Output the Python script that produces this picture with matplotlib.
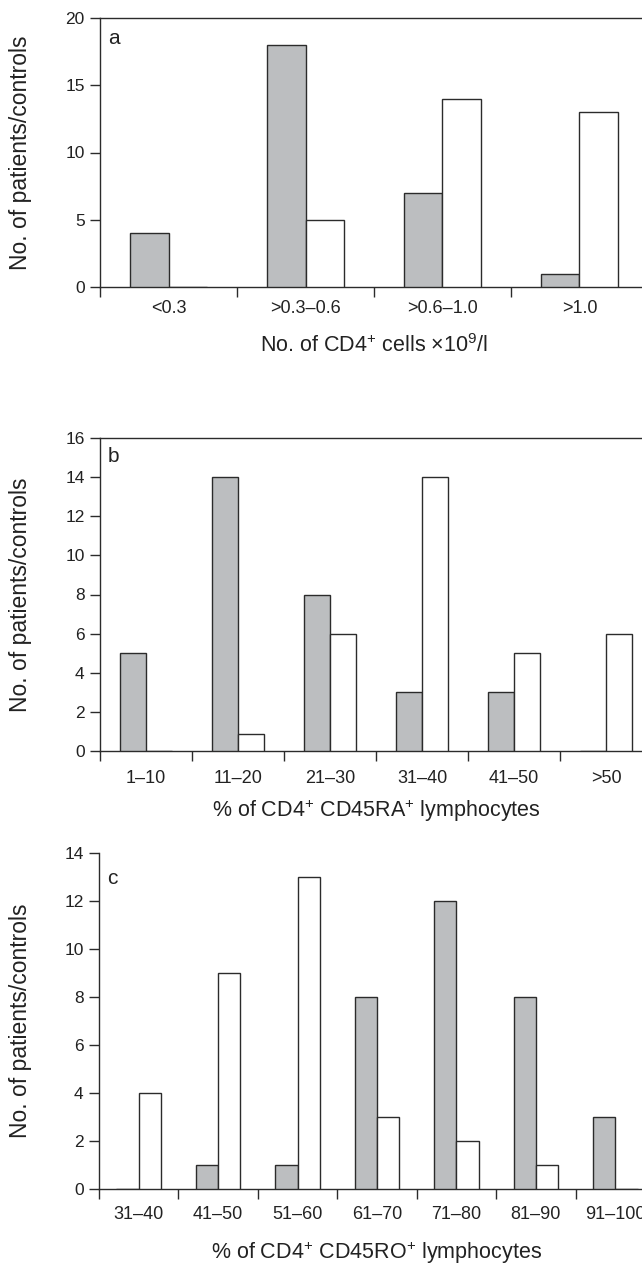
import matplotlib
matplotlib.use('Agg')
import matplotlib.pyplot as plt
import numpy as np

plt.rcParams['font.family'] = ['Liberation Sans', 'DejaVu Sans']
plt.rcParams['mathtext.fontset'] = 'custom'
plt.rcParams['mathtext.rm'] = 'Liberation Sans'
plt.rcParams['mathtext.it'] = 'Liberation Sans'

# 数据
cats_a = ['<0.3', '>0.3–0.6', '>0.6–1.0', '>1.0']
patients_a = [4, 18, 7, 1]
controls_a = [0, 5, 14, 13]

cats_b = ['1–10', '11–20', '21–30', '31–40', '41–50', '>50']
patients_b = [5, 14, 8, 3, 3, 0]
controls_b = [0, 0.85, 6, 14, 5, 6]

cats_c = ['31–40', '41–50', '51–60', '61–70', '71–80', '81–90', '91–100']
patients_c = [0, 1, 1, 8, 12, 8, 3]
controls_c = [4, 9, 13, 3, 2, 1, 0]

gray = '#bcbec0'
edge = '#2b2b2b'
txt = '#222222'
w = 0.28

W, H = 642, 1266
fig = plt.figure(figsize=(W / 100, H / 100), dpi=100)


def panel(px, cats, pat, con, ymax, ystep, letter, xlabel, top_spine,
          xtick_pad, xlab_off, letter_off):
    # px = (left, top, right, bottom) 像素
    l, t, r, b = px
    axw, axh = r - l, b - t
    ax = fig.add_axes([l / W, 1 - b / H, axw / W, axh / H])
    x = np.arange(len(cats))
    ax.bar(x - w / 2, pat, w, color=gray, edgecolor=edge, linewidth=1.0, zorder=3)
    ax.bar(x + w / 2, con, w, color='white', edgecolor=edge, linewidth=1.0, zorder=3)
    ax.set_xlim(-0.5, len(cats) - 0.5)
    ax.set_ylim(0, ymax)
    ax.set_yticks(np.arange(0, ymax + 1, ystep))
    # 刻度在类别之间
    ax.set_xticks(np.arange(len(cats) + 1) - 0.5)
    ax.set_xticklabels([])
    ax.set_xticks(x, minor=True)
    ax.set_xticklabels(cats, minor=True)
    ax.tick_params(axis='x', which='major', length=7, width=1, color=edge, direction='out')
    ax.tick_params(axis='x', which='minor', length=0, pad=xtick_pad,
                   labelsize=13, labelcolor=txt)
    ax.tick_params(axis='y', length=7, width=1, color=edge, pad=4,
                   labelsize=12.5, labelcolor=txt)
    for s in ['left', 'bottom', 'top']:
        ax.spines[s].set_color(edge)
        ax.spines[s].set_linewidth(1)
    ax.spines['right'].set_visible(False)
    ax.spines['top'].set_visible(top_spine)
    ax.set_ylabel('No. of patients/controls', fontsize=16.5, color=txt)
    ax.yaxis.set_label_coords(-(l - 32) / axw, 0.5)
    ax.set_xlabel(xlabel, fontsize=15.5, color=txt)
    ax.xaxis.set_label_coords(0.5, -xlab_off / axh)
    ax.text(8 / axw, 1 - letter_off / axh, letter, transform=ax.transAxes,
            fontsize=15, color=txt, va='center')
    return ax


panel((100, 18, 648, 287), cats_a, patients_a, controls_a, 20, 5, 'a',
      'No. of CD4$^{+}$ cells $\\times$10$^{9}$/l', True, 9.5, 47, 21)
panel((100, 438, 652, 751), cats_b, patients_b, controls_b, 16, 2, 'b',
      '% of CD4$^{+}$ CD45RA$^{+}$ lymphocytes', True, 14, 46, 19)
panel((99, 853, 655, 1189), cats_c, patients_c, controls_c, 14, 2, 'c',
      '% of CD4$^{+}$ CD45RO$^{+}$ lymphocytes', False, 12, 51, 26)

fig.savefig('out.png', dpi=100)
